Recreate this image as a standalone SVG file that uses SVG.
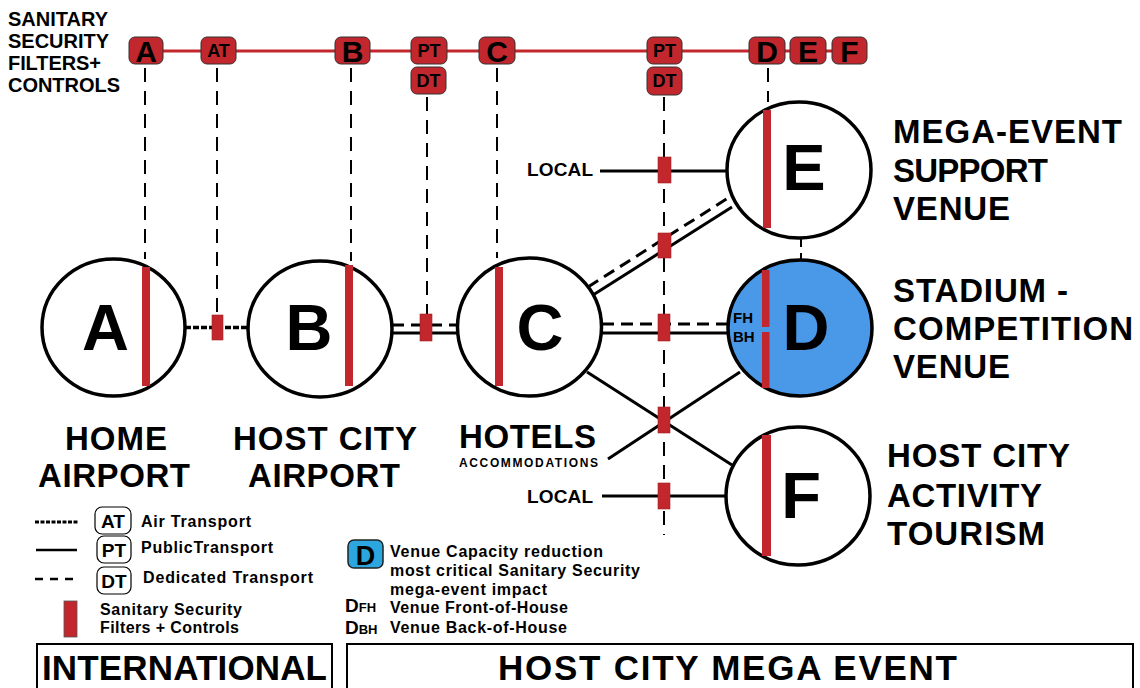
<svg xmlns="http://www.w3.org/2000/svg" width="1140" height="688" viewBox="0 0 1140 688">
<style>
text{font-family:"Liberation Sans",Arial,sans-serif;font-weight:bold;fill:#000}
.node{fill:#fff;stroke:#000;stroke-width:3.5}
.bar{fill:#c1272d}
.badge{fill:#c1272d;stroke:#333;stroke-width:1}
.lbadge{fill:#fff;stroke:#000;stroke-width:1.2}
.filt{fill:#c1272d;stroke:#a02026;stroke-width:0.6}
.vd{stroke:#000;stroke-width:2;stroke-dasharray:14 9;fill:none}
.solid{stroke:#000;stroke-width:3;fill:none}
.dash{stroke:#000;stroke-width:3;stroke-dasharray:12 7;fill:none}
.air{stroke:#000;stroke-width:3.5;stroke-dasharray:6 2;fill:none}
.big{font-size:65px;text-anchor:middle}
.lab{font-size:33px}
.bl{font-size:30px;text-anchor:middle}
.bs{font-size:18px;text-anchor:middle}
.leg{font-size:16px}
</style>
<rect width="1140" height="688" fill="#fff"/>

<g id="top-line">
<line x1="146" y1="51" x2="850" y2="51" stroke="#c1272d" stroke-width="3"/>
<text x="8" y="26" font-size="20" textLength="100">SANITARY</text>
<text x="8" y="48" font-size="20" textLength="101">SECURITY</text>
<text x="8" y="70" font-size="20" textLength="93">FILTERS+</text>
<text x="8" y="92" font-size="20" textLength="112">CONTROLS</text>
</g>

<g id="connectors">
<line class="vd" x1="145" y1="68" x2="145" y2="259"/>
<line class="vd" x1="217" y1="68" x2="217" y2="315"/>
<line class="vd" x1="351" y1="68" x2="351" y2="261"/>
<line class="vd" x1="427" y1="97" x2="427" y2="315"/>
<line class="vd" x1="497" y1="68" x2="497" y2="258"/>
<line class="vd" x1="664" y1="97" x2="664" y2="535"/>
<line class="vd" x1="768" y1="68" x2="768" y2="102"/>
<line x1="801" y1="238" x2="801" y2="262" stroke="#000" stroke-width="2" stroke-dasharray="9 6"/>
<line class="air" x1="185" y1="327.5" x2="248" y2="327.5"/>
<line class="dash" x1="392" y1="325" x2="457" y2="325"/>
<line class="solid" x1="392" y1="333" x2="457" y2="333"/>
<line class="dash" x1="602" y1="324" x2="727" y2="324"/>
<line class="solid" x1="602" y1="333" x2="727" y2="333"/>
<line class="dash" x1="588" y1="287" x2="728" y2="198"/>
<line class="solid" x1="593" y1="295" x2="732" y2="207"/>
<line class="solid" x1="587" y1="372" x2="732" y2="465"/>
<line class="solid" x1="740" y1="372" x2="608" y2="459"/>
<line class="solid" x1="600" y1="171" x2="727" y2="171"/>
<line class="solid" x1="602" y1="496" x2="726" y2="496"/>
<rect class="filt" x="212" y="315" width="11" height="25" stroke="#333"/>
<rect class="filt" x="420" y="314" width="12" height="27"/>
<rect class="filt" x="658" y="314" width="12" height="27"/>
<rect class="filt" x="658" y="233" width="13" height="25"/>
<rect class="filt" x="658" y="157" width="13" height="26"/>
<rect class="filt" x="658" y="407" width="12" height="26"/>
<rect class="filt" x="658" y="483" width="12" height="26"/>
<text x="527" y="176" font-size="19" textLength="66">LOCAL</text>
<text x="527" y="503" font-size="19" textLength="66">LOCAL</text>
</g>

<g id="badges">
<rect class="badge" x="129" y="37" width="34" height="27" rx="6"/><text class="bl" x="146" y="61.5">A</text>
<rect class="badge" x="201" y="37" width="35" height="27" rx="6"/><text class="bs" x="218.5" y="57">AT</text>
<rect class="badge" x="335" y="37" width="35" height="27" rx="6"/><text class="bl" x="352.5" y="61.5">B</text>
<rect class="badge" x="411" y="37" width="36" height="27" rx="6"/><text class="bs" x="429" y="57">PT</text>
<rect class="badge" x="411" y="67" width="35" height="27" rx="6"/><text class="bs" x="428.5" y="87">DT</text>
<rect class="badge" x="479" y="37" width="36" height="27" rx="6"/><text class="bl" x="497" y="61.5">C</text>
<rect class="badge" x="647" y="37" width="35" height="27" rx="6"/><text class="bs" x="664.5" y="57">PT</text>
<rect class="badge" x="647" y="67" width="35" height="28" rx="6"/><text class="bs" x="664.5" y="87">DT</text>
<rect class="badge" x="749" y="37" width="36" height="27" rx="6"/><text class="bl" x="767" y="61.5">D</text>
<rect class="badge" x="790" y="37" width="36" height="27" rx="6"/><text class="bl" x="808" y="61.5">E</text>
<rect class="badge" x="832" y="37" width="35" height="27" rx="6"/><text class="bl" x="849.5" y="61.5">F</text>
</g>

<g id="node-A">
<ellipse class="node" cx="113.5" cy="327.5" rx="71.5" ry="68.5"/>
<rect class="bar" x="142" y="267" width="8" height="119"/>
<text class="big" x="105.5" y="350">A</text>
<text class="lab" x="65" y="450" textLength="102">HOME</text>
<text class="lab" x="38" y="487" textLength="152">AIRPORT</text>
</g>

<g id="node-B">
<ellipse class="node" cx="320" cy="329" rx="72" ry="68"/>
<rect class="bar" x="345" y="265" width="8" height="121"/>
<text class="big" x="309" y="350">B</text>
<text class="lab" x="233" y="450" textLength="184">HOST CITY</text>
<text class="lab" x="248" y="487" textLength="152">AIRPORT</text>
</g>

<g id="node-C">
<ellipse class="node" cx="529.5" cy="327" rx="72" ry="69"/>
<rect class="bar" x="495" y="267" width="8" height="119"/>
<text class="big" x="540" y="350">C</text>
<text class="lab" x="459" y="448" textLength="137">HOTELS</text>
<text x="459" y="467" font-size="12" textLength="139">ACCOMMODATIONS</text>
</g>

<g id="node-D">
<ellipse cx="800" cy="328" rx="72" ry="68" fill="#4a98e8" stroke="#000" stroke-width="3.5"/>
<rect class="bar" x="762" y="270" width="7.5" height="57"/>
<rect class="bar" x="762" y="332" width="7.5" height="56"/>
<text class="big" x="806" y="350">D</text>
<text x="733" y="323" font-size="15">FH</text>
<text x="733" y="342" font-size="15">BH</text>
<text class="lab" x="893" y="302" textLength="175">STADIUM -</text>
<text class="lab" x="893" y="340" textLength="240">COMPETITION</text>
<text class="lab" x="893" y="378" textLength="117">VENUE</text>
</g>

<g id="node-E">
<ellipse class="node" cx="799" cy="170" rx="72" ry="68"/>
<rect class="bar" x="763" y="110" width="8" height="118"/>
<text class="big" x="804" y="190">E</text>
<text class="lab" x="893" y="143" textLength="229">MEGA-EVENT</text>
<text class="lab" x="893" y="182" textLength="155">SUPPORT</text>
<text class="lab" x="893" y="220" textLength="117">VENUE</text>
</g>

<g id="node-F">
<ellipse class="node" cx="798" cy="496" rx="72" ry="69"/>
<rect class="bar" x="762" y="435" width="9" height="121"/>
<text class="big" x="801" y="518">F</text>
<text class="lab" x="887" y="467" textLength="183">HOST CITY</text>
<text class="lab" x="887" y="507" textLength="155">ACTIVITY</text>
<text class="lab" x="887" y="545" textLength="158">TOURISM</text>
</g>

<g id="legend">
<line x1="35" y1="522" x2="78" y2="522" stroke="#000" stroke-width="3" stroke-dasharray="4 1.5"/>
<line x1="36" y1="550" x2="77" y2="550" stroke="#000" stroke-width="2.5"/>
<line x1="35" y1="579" x2="75" y2="579" stroke="#000" stroke-width="2.5" stroke-dasharray="8 7"/>
<rect class="lbadge" x="95" y="507" width="36" height="27" rx="7"/><text x="113" y="528" font-size="19" text-anchor="middle">AT</text>
<rect class="lbadge" x="97" y="536" width="34" height="27" rx="7"/><text x="114" y="557" font-size="19" text-anchor="middle">PT</text>
<rect class="lbadge" x="97" y="567" width="34" height="27" rx="7"/><text x="114" y="588" font-size="19" text-anchor="middle">DT</text>
<text class="leg" x="141" y="527" textLength="110">Air Transport</text>
<text class="leg" x="141" y="553" textLength="132">PublicTransport</text>
<text class="leg" x="143" y="583" textLength="170">Dedicated Transport</text>
<rect x="64" y="601" width="13" height="36" fill="#c1272d" stroke="#555" stroke-width="0.8"/>
<text class="leg" x="100" y="615" textLength="142">Sanitary Security</text>
<text class="leg" x="100" y="633" textLength="139">Filters + Controls</text>
<rect x="348" y="540" width="35" height="28" rx="6" fill="#2ba6df" stroke="#222" stroke-width="1.5"/>
<text x="365.5" y="565" font-size="27" text-anchor="middle">D</text>
<text x="390" y="557" font-size="16" textLength="213">Venue Capacity reduction</text>
<text x="390" y="576" font-size="16" textLength="250">most critical Sanitary Security</text>
<text x="390" y="595" font-size="16" textLength="157">mega-event impact</text>
<text x="345" y="612" font-size="19">D<tspan font-size="13">FH</tspan></text>
<text x="390" y="613" font-size="16" textLength="178">Venue Front-of-House</text>
<text x="345" y="634" font-size="19">D<tspan font-size="13">BH</tspan></text>
<text x="390" y="633" font-size="16" textLength="177">Venue Back-of-House</text>
</g>

<g id="boxes">
<rect x="37" y="644" width="295" height="60" fill="none" stroke="#000" stroke-width="2"/>
<text x="42" y="680" font-size="35" textLength="285">INTERNATIONAL</text>
<rect x="347" y="644" width="786" height="60" fill="none" stroke="#000" stroke-width="2"/>
<text x="498" y="680" font-size="35" textLength="459">HOST CITY MEGA EVENT</text>
</g>
</svg>
